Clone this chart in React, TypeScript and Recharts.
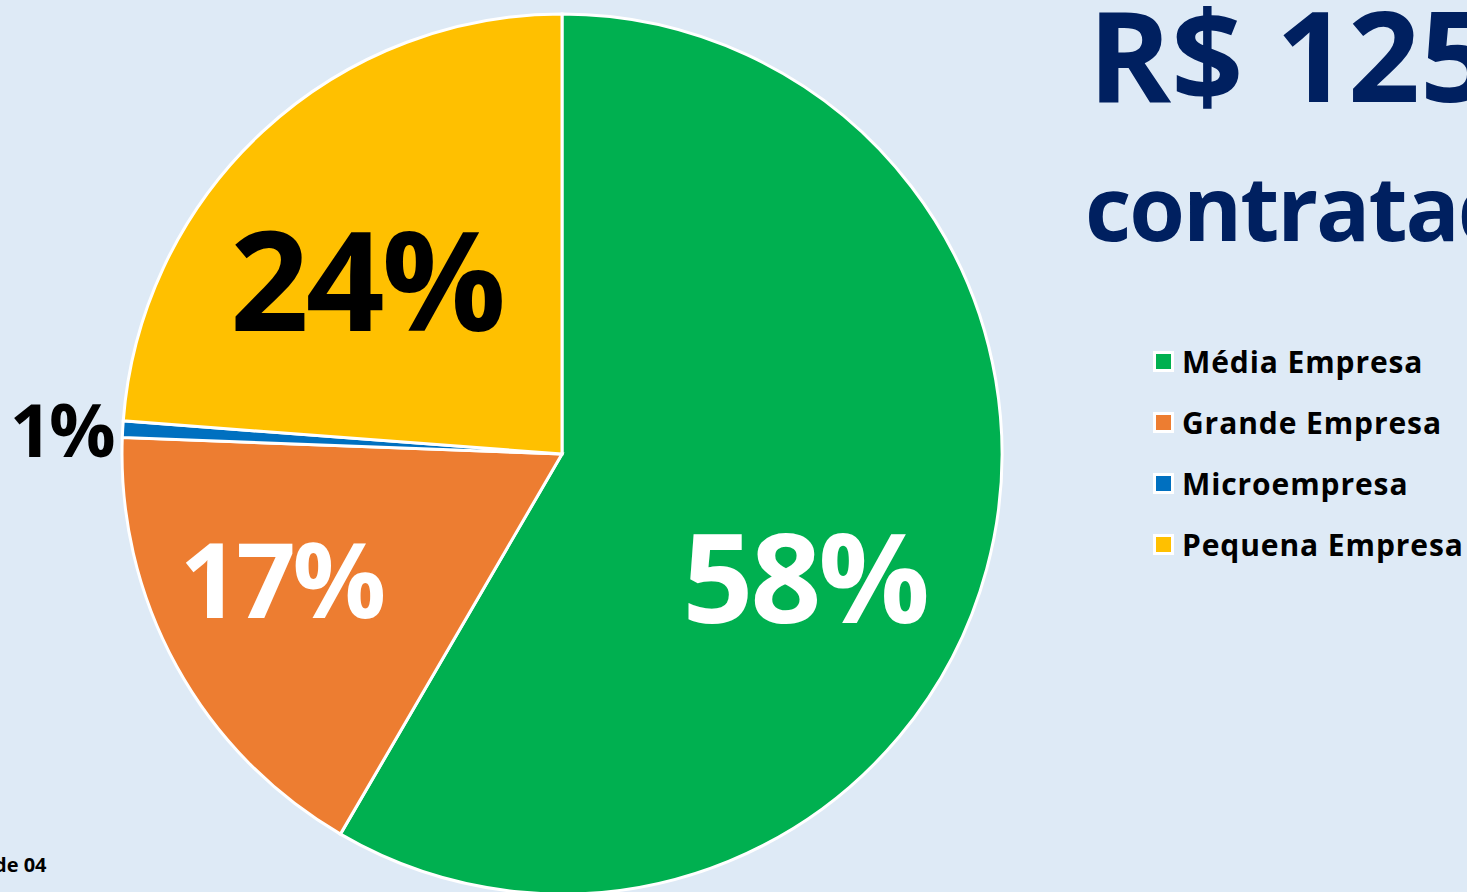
import React from 'react';
import { PieChart, Pie, Cell, Legend } from 'recharts';

const categories = ['Média Empresa', 'Grande Empresa', 'Microempresa', 'Pequena Empresa'];
const shares = [58.4, 17.2, 0.6, 23.8];
const percentLabels = ['58%', '17%', '1%', '24%'];
const colors = ['#00B050', '#ED7D31', '#0070C0', '#FFC000'];

const data = categories.map((name, i) => ({ name, value: shares[i], label: percentLabels[i] }));

const labelStyle = [
  { r: 0.62, fill: '#FFFFFF', size: 124, shift: -12, dy: -4 },
  { r: 0.70, fill: '#FFFFFF', size: 104, shift: -4.4, dy: -4 },
  { r: 1.14, fill: '#000000', size: 74, shift: 0, dy: 3 },
  { r: 0.59, fill: '#000000', size: 138, shift: 6, dy: -6 },
];

const RAD = Math.PI / 180;
const FONT = '"Open Sans", "Noto Sans", sans-serif';

const renderLabel = (props: any) => {
  const { cx, cy, midAngle, outerRadius, index, payload } = props;
  const st = labelStyle[index];
  const ang = midAngle + st.shift;
  const x = cx + outerRadius * st.r * Math.cos(-ang * RAD);
  const y = cy + outerRadius * st.r * Math.sin(-ang * RAD) + st.dy;
  return (
    <text
      x={x}
      y={y}
      fill={st.fill}
      textAnchor="middle"
      dominantBaseline="central"
      style={{ fontFamily: FONT, fontWeight: 700, fontSize: st.size, letterSpacing: -3 }}
    >
      {payload.label}
    </text>
  );
};

const renderLegend = (props: any) => {
  const payload = [...(props.payload || [])].sort(
    (a: any, b: any) => categories.indexOf(a.value) - categories.indexOf(b.value)
  );
  return (
    <div style={{ display: 'flex', flexDirection: 'column' }}>
      {payload.map((entry: any, i: number) => (
        <div key={i} style={{ display: 'flex', alignItems: 'center', height: 61 }}>
          <div
            style={{
              width: 15,
              height: 15,
              background: entry.color,
              border: '3px solid #FFFFFF',
              marginRight: 8,
            }}
          />
          <span style={{ fontFamily: FONT, fontWeight: 700, fontSize: 30, color: '#000', letterSpacing: 0.9 }}>
            {entry.value}
          </span>
        </div>
      ))}
    </div>
  );
};

export default function App() {
  return (
    <div
      style={{
        position: 'fixed',
        left: 0,
        top: 0,
        width: 1467,
        height: 892,
        background: '#DEEAF6',
        overflow: 'hidden',
      }}
    >
      <div
        style={{
          position: 'absolute',
          left: 1088,
          top: -33,
          whiteSpace: 'nowrap',
          fontFamily: FONT,
          fontWeight: 700,
          fontSize: 126,
          color: '#002060',
          letterSpacing: 0,
        }}
      >
        R$ 125 milhões
      </div>
      <div
        style={{
          position: 'absolute',
          left: 1085,
          top: 145,
          whiteSpace: 'nowrap',
          fontFamily: FONT,
          fontWeight: 700,
          fontSize: 90,
          color: '#002060',
          letterSpacing: -2,
        }}
      >
        contratados
      </div>
      <div
        style={{
          position: 'absolute',
          left: -6,
          top: 851,
          whiteSpace: 'nowrap',
          fontFamily: FONT,
          fontWeight: 700,
          fontSize: 20,
          color: '#000',
        }}
      >
        de 04
      </div>
      <PieChart
        width={1467}
        height={892}
        margin={{ top: 0, right: 0, bottom: 0, left: 0 }}
        style={{ position: 'absolute', left: 0, top: 0 }}
      >
        <Pie
          data={data}
          dataKey="value"
          nameKey="name"
          cx={562}
          cy={454}
          outerRadius={440}
          startAngle={90}
          endAngle={-270}
          stroke="#FFFFFF"
          strokeWidth={3}
          label={renderLabel}
          labelLine={false}
          isAnimationActive={false}
        >
          {data.map((d, i) => (
            <Cell key={d.name} fill={colors[i]} />
          ))}
        </Pie>
        <Legend
          layout="vertical"
          verticalAlign="top"
          align="right"
          content={renderLegend}
          wrapperStyle={{ position: 'absolute', left: 1153, top: 331, width: 320 }}
        />
      </PieChart>
    </div>
  );
}
